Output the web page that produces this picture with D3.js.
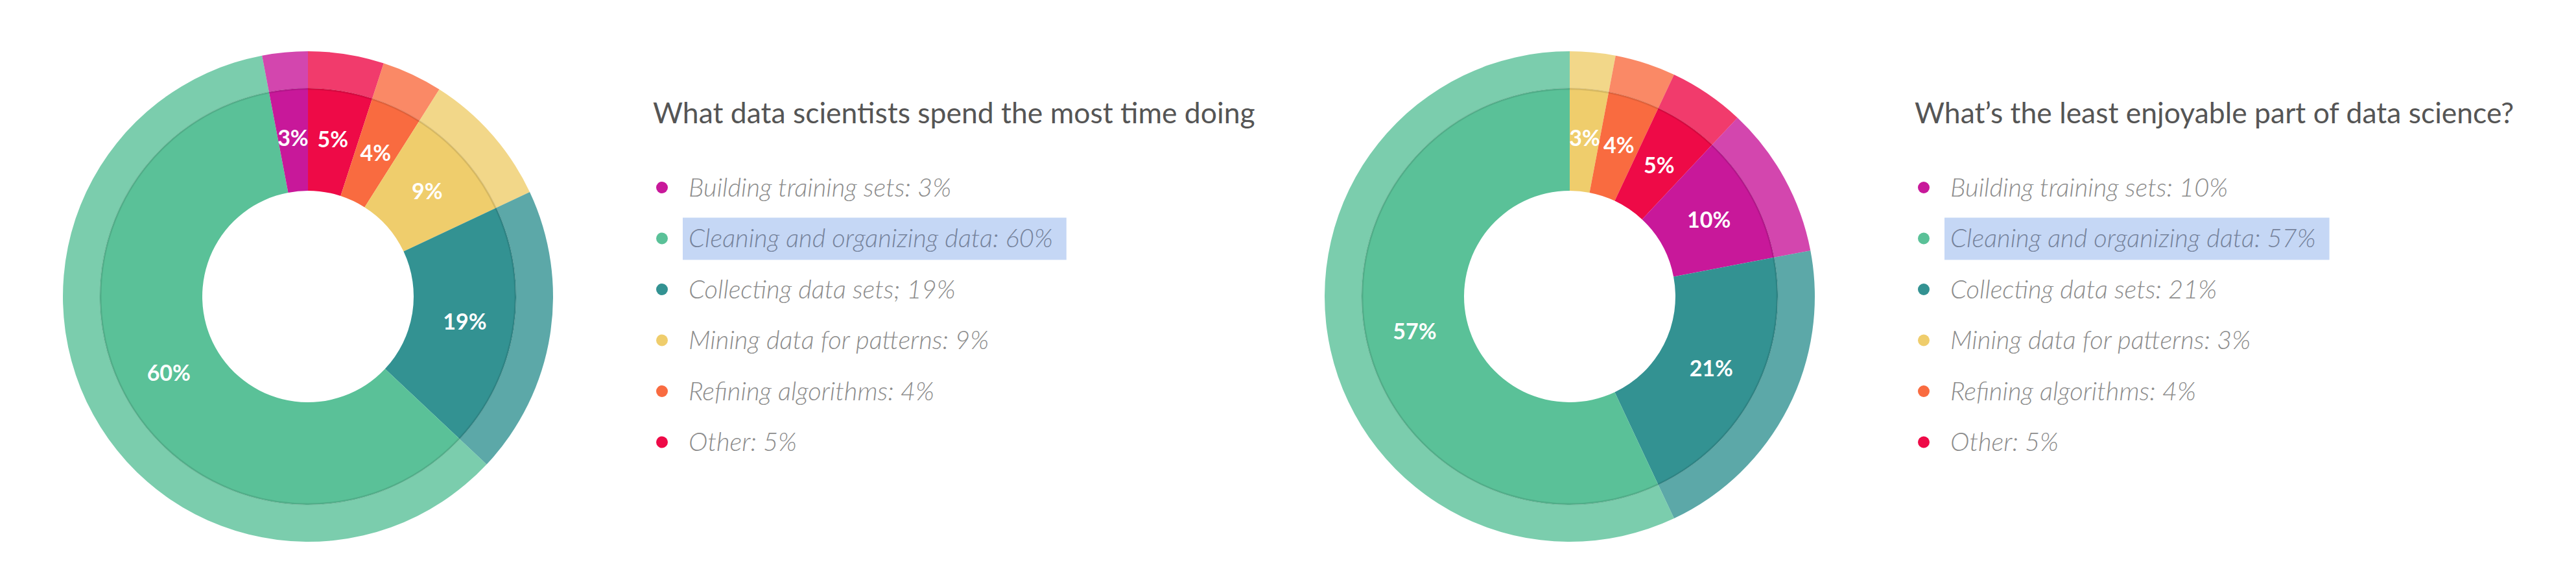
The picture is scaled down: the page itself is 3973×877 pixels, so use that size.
<!DOCTYPE html>
<html>
<head>
<meta charset="utf-8">
<script src="https://cdn.jsdelivr.net/npm/d3@7"></script>
<style>
  html, body { margin: 0; padding: 0; background: #ffffff; }
  svg { display: block; }
</style>
</head>
<body>
<svg id="chart" width="3973" height="877"></svg>
<script>
// ---- data ----
const categories = ["Building training sets", "Cleaning and organizing data", "Collecting data sets", "Mining data for patterns", "Refining algorithms", "Other"];
const colors = ["#c8189a", "#5ac198", "#339292", "#efcd6c", "#f96b40", "#ee0a47"];

const titles = ["What data scientists spend the most time doing", "What\u2019s the least enjoyable part of data science?"];

const timeValues  = [3, 60, 19, 9, 4, 5];
const enjoyValues = [10, 57, 21, 3, 4, 5];

// clockwise drawing order from 12 o'clock
const timeOrder  = ["Other", "Refining algorithms", "Mining data for patterns", "Collecting data sets", "Cleaning and organizing data", "Building training sets"];
const enjoyOrder = ["Mining data for patterns", "Refining algorithms", "Other", "Building training sets", "Collecting data sets", "Cleaning and organizing data"];

const timeLegend  = ["Building training sets: 3%", "Cleaning and organizing data: 60%", "Collecting data sets; 19%", "Mining data for patterns: 9%", "Refining algorithms: 4%", "Other: 5%"];
const enjoyLegend = ["Building training sets: 10%", "Cleaning and organizing data: 57%", "Collecting data sets: 21%", "Mining data for patterns: 3%", "Refining algorithms: 4%", "Other: 5%"];

const highlighted = "Cleaning and organizing data";

// ---- layout ----
const panelOffset = 1946;
const cx = 475, cy = 457;
const rHole = 163, rInner = 321, rOuter = 378, rLabel = 245;
const titleX = 1007, titleY = 190, titleWidth = 929;
const bulletX = 1021, textX = 1062, legendY0 = 289, legendStep = 78.5, legendRefWidth = 562;
const fontFamily = "Lato, 'Open Sans', sans-serif";

const svg = d3.select("#chart");
svg.append("rect").attr("width", 3973).attr("height", 877).attr("fill", "#ffffff");

const color = d3.scaleOrdinal().domain(categories).range(colors);

// measure fonts so text spans match the reference
function measure(str, size, style, weight) {
  const t = svg.append("text")
    .style("font-family", fontFamily).style("font-size", size + "px")
    .style("font-style", style).style("font-weight", weight).text(str);
  const w = t.node().getComputedTextLength();
  t.remove();
  return w;
}
const titleSize = 46 * titleWidth / measure(titles[0], 46, "normal", "400");
const legendSize = 36 * legendRefWidth / measure(timeLegend[1], 36, "italic", "300");

const charts = [
  { title: titles[0], values: timeValues, order: timeOrder, legend: timeLegend },
  { title: titles[1], values: enjoyValues, order: enjoyOrder, legend: enjoyLegend }
];

const pie = d3.pie().sort(null).value(d => d.value);
const arcInner = d3.arc().innerRadius(rHole).outerRadius(rInner);
const arcOuter = d3.arc().innerRadius(rInner).outerRadius(rOuter);
const arcLabel = d3.arc().innerRadius(rLabel).outerRadius(rLabel);

charts.forEach((c, ci) => {
  const g = svg.append("g").attr("transform", `translate(${ci * panelOffset},0)`);
  const data = c.order.map(name => ({ name, value: c.values[categories.indexOf(name)] }));
  const arcs = pie(data);

  const donut = g.append("g").attr("transform", `translate(${cx},${cy})`);
  donut.selectAll("path.outer").data(arcs).join("path")
    .attr("class", "outer")
    .attr("d", arcOuter)
    .attr("fill", d => color(d.data.name))
    .attr("fill-opacity", 0.8);
  donut.selectAll("path.inner").data(arcs).join("path")
    .attr("class", "inner")
    .attr("d", arcInner)
    .attr("fill", d => color(d.data.name));
  donut.append("circle")
    .attr("r", rInner - 1)
    .attr("fill", "none")
    .attr("stroke", "#000")
    .attr("stroke-opacity", 0.1)
    .attr("stroke-width", 3);

  donut.selectAll("text.lbl").data(arcs).join("text")
    .attr("class", "lbl")
    .attr("transform", d => `translate(${arcLabel.centroid(d)})`)
    .attr("text-anchor", "middle")
    .attr("dy", "0.36em")
    .attr("fill", "#ffffff")
    .style("font-family", fontFamily)
    .style("font-weight", "700")
    .style("font-size", "34px")
    .text(d => d.data.value + "%");

  g.append("text")
    .attr("x", titleX)
    .attr("y", titleY)
    .attr("fill", "#555555")
    .style("font-family", fontFamily)
    .style("font-size", titleSize + "px")
    .text(c.title);

  const leg = g.selectAll("g.leg").data(categories).join("g")
    .attr("class", "leg")
    .attr("transform", (d, i) => `translate(0,${legendY0 + i * legendStep})`);

  leg.each(function(name, i) {
    const row = d3.select(this);
    const isHi = name === highlighted;
    const hiRect = isHi ? row.append("rect") : null;
    row.append("circle")
      .attr("cx", bulletX).attr("cy", 0).attr("r", 9)
      .attr("fill", color(name));
    const t = row.append("text")
      .attr("x", textX).attr("y", 0).attr("dy", "0.35em")
      .attr("fill", isHi ? "#76839c" : "#8c8c8c")
      .style("font-family", fontFamily)
      .style("font-style", "italic")
      .style("font-weight", "300")
      .style("font-size", legendSize + "px")
      .text(c.legend[i]);
    if (isHi) {
      const bb = t.node().getBBox();
      hiRect.attr("x", bb.x - 9).attr("y", -32)
        .attr("width", bb.width + 30).attr("height", 65)
        .attr("fill", "#c5d7f5");
    }
  });
});
</script>
</body>
</html>
